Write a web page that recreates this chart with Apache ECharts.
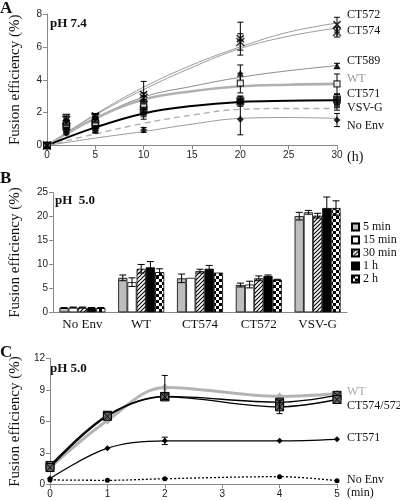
<!DOCTYPE html>
<html><head><meta charset="utf-8">
<script src="https://cdn.jsdelivr.net/npm/echarts@6/dist/echarts.min.js"></script>
<style>html,body{margin:0;padding:0;background:#fff}#c{width:400px;height:501px}</style>
</head><body><div id="c"></div>
<script>
// ---------- Panel A data (pH 7.4) ----------
const timesA = [0, 2, 5, 10, 20, 30];
const seriesNamesA = ['CT572', 'CT574', 'CT589', 'WT', 'CT571', 'VSV-G', 'No Env'];
const markA_CT572 = [0, 1.7, 1.8, 3.1, 6.5, 7.35];
const markA_CT574 = [0, 1.55, 1.7, 2.9, 6.3, 6.9];
const markA_CT589 = [0, 1.4, 1.55, 2.7, 4.4, 4.85];
const markA_WT    = [0, 1.3, 1.4, 2.5, 3.8, 3.75];
const markA_CT571 = [0, 1.15, 1.25, 2.2, 2.7, 2.8];
const markA_VSVG  = [0, 1.0, 1.1, 1.9, 2.7, 2.45];
const markA_NoEnv = [0, 0.75, 0.9, 0.95, 1.6, 1.55];
const errA_CT572 = [0, 0.2, 0.15, 0.8, 1.0, 0.45];
const errA_CT574 = [0, 0.2, 0.2, 0.3, 0.5, 0.3];
const errA_CT589 = [0, 0.2, 0.2, 0.3, 0.5, 0.15];
const errA_WT    = [0, 0.2, 0.3, 0.3, 0.6, 0.6];
const errA_CT571 = [0, 0.2, 0.5, 0.3, 0.3, 0.3];
const errA_VSVG  = [0, 0.2, 0.2, 0.3, 0.3, 0.3];
const errA_NoEnv = [0, 0.1, 0.1, 0.15, 0.95, 0.4];
// trend curves (read at x = 0,5,...,30)
const fitX = [0, 5, 10, 15, 20, 25, 30];
const fitA_CT572 = [0, 1.9, 3.55, 4.9, 6.0, 6.9, 7.45];
const fitA_CT574 = [0, 1.85, 3.4, 4.75, 5.9, 6.65, 7.15];
const fitA_CT589 = [0, 1.65, 2.95, 3.6, 4.15, 4.55, 4.86];
const fitA_WT    = [0, 1.65, 2.8, 3.3, 3.6, 3.7, 3.75];
const fitA_CT571 = [0, 1.1, 1.95, 2.4, 2.65, 2.72, 2.76];
const fitA_VSVG  = [0, 0.7, 1.35, 1.85, 2.2, 2.25, 2.25];
const fitA_NoEnv = [0, 0.45, 0.85, 1.3, 1.65, 1.7, 1.65];
const ticksA_x = [0, 5, 10, 15, 20, 25, 30];
const ticksA_y = [0, 2, 4, 6, 8];

// ---------- Panel B data (pH 5.0 bars) ----------
const categoriesB = ['No Env', 'WT', 'CT574', 'CT572', 'VSV-G'];
const timeLabelsB = ['5 min', '15 min', '30 min', '1 h', '2 h'];
const barB_5min  = [0.9, 7.2, 7.1, 5.7, 20.1];
const barB_15min = [1.0, 6.3, 7.2, 5.8, 20.9];
const barB_30min = [1.0, 9.1, 8.6, 7.1, 20.2];
const barB_1h    = [0.9, 9.4, 9.1, 7.6, 21.8];
const barB_2h    = [0.9, 8.4, 8.3, 6.8, 21.8];
const errB_5min  = [0.1, 0.6, 0.9, 0.4, 0.8];
const errB_15min = [0.1, 0.9, 0, 0.7, 0.4];
const errB_30min = [0.1, 0.9, 0.4, 0.5, 0.5];
const errB_1h    = [0.1, 1.2, 0.7, 0.2, 2.3];
const errB_2h    = [0.1, 0.7, 0, 0.1, 1.5];
const ticksB_y = [0, 5, 10, 15, 20, 25];

// ---------- Panel C data (pH 5.0 kinetics) ----------
const timesC = [0, 1, 2, 4, 5];
const lineC_WT    = [1.6, 6.1, 9.25, 8.4, 8.65];
const lineC_CT574 = [1.8, 6.6, 8.4, 7.85, 8.5];
const lineC_CT572 = [1.6, 6.5, 8.35, 7.4, 8.1];
const lineC_CT571 = [0.55, 3.45, 4.15, 4.15, 4.3];
const lineC_NoEnv = [0.42, 0.38, 0.53, 0.73, 0.34];
const errC_WT    = [0, 0, 1.15, 0, 0];
const errC_CT572 = [0, 0, 0, 0.65, 0];
const errC_CT571 = [0, 0, 0.35, 0, 0];
const ticksC_x = [0, 1, 2, 3, 4, 5];
const ticksC_y = [0, 3, 6, 9, 12];

// ---------- helpers ----------
const SERIF = '"Liberation Serif", "Times New Roman", serif';
const SANS = '"Liberation Sans", Arial, sans-serif';
const pairs = (xs, ys) => xs.map((x, i) => [x, ys[i]]);
const errTriples = (xs, ys, es) => xs.map((x, i) => [x, ys[i] - es[i], ys[i] + es[i]]).filter((d, i) => es[i] > 0);

function makePattern(kind) {
  const c = document.createElement('canvas');
  const s = kind === 'check' ? 6 : 4;
  c.width = s; c.height = s;
  const g = c.getContext('2d');
  g.fillStyle = '#fff'; g.fillRect(0, 0, s, s);
  g.fillStyle = '#000';
  if (kind === 'check') {
    g.fillRect(0, 0, 3, 3); g.fillRect(3, 3, 3, 3);
  } else {
    g.strokeStyle = '#000'; g.lineWidth = 1.1;
    g.beginPath(); g.moveTo(0, s); g.lineTo(s, 0);
    g.moveTo(-1, 1); g.lineTo(1, -1);
    g.moveTo(s - 1, s + 1); g.lineTo(s + 1, s - 1); g.stroke();
  }
  return { image: c, repeat: 'repeat' };
}

function errRender(gridCap) {
  return function (params, api) {
    const x = api.value(0), lo = api.value(1), hi = api.value(2);
    const p1 = api.coord([x, hi]), p2 = api.coord([x, lo]);
    const w = gridCap;
    const st = { stroke: '#000', lineWidth: 1 };
    return { type: 'group', children: [
      { type: 'line', shape: { x1: p1[0], y1: p1[1], x2: p2[0], y2: p2[1] }, style: st },
      { type: 'line', shape: { x1: p1[0] - w, y1: p1[1], x2: p1[0] + w, y2: p1[1] }, style: st },
      { type: 'line', shape: { x1: p2[0] - w, y1: p2[1], x2: p2[0] + w, y2: p2[1] }, style: st }
    ]};
  };
}

const axisLine = { lineStyle: { color: '#888', width: 1 } };
const axisTick = { length: 4, lineStyle: { color: '#888' } };
const axisLabel = { fontFamily: SANS, fontSize: 10, color: '#222', margin: 5 };

// ---------- Panel A series ----------
const fitStyles = {
  'CT572': { color: '#9a9a9a', width: 1 },
  'CT574': { color: '#9a9a9a', width: 1 },
  'CT589': { color: '#8a8a8a', width: 1 },
  'WT':    { color: '#b0b0b0', width: 2.6 },
  'CT571': { color: '#000', width: 2 },
  'VSV-G': { color: '#b0b0b0', width: 1.4, type: [6, 4] },
  'No Env': { color: '#9a9a9a', width: 1 }
};
const fitsA = { 'CT572': fitA_CT572, 'CT574': fitA_CT574, 'CT589': fitA_CT589, 'WT': fitA_WT, 'CT571': fitA_CT571, 'VSV-G': fitA_VSVG, 'No Env': fitA_NoEnv };
const marksA = { 'CT572': markA_CT572, 'CT574': markA_CT574, 'CT589': markA_CT589, 'WT': markA_WT, 'CT571': markA_CT571, 'VSV-G': markA_VSVG, 'No Env': markA_NoEnv };
const errsA = { 'CT572': errA_CT572, 'CT574': errA_CT574, 'CT589': errA_CT589, 'WT': errA_WT, 'CT571': errA_CT571, 'VSV-G': errA_VSVG, 'No Env': errA_NoEnv };
const markStyle = {
  'CT572': { symbol: 'path://M0,0L10,10M10,0L0,10', size: 7, item: { color: 'transparent', borderColor: '#000', borderWidth: 1.6 } },
  'CT574': { symbol: 'path://M0,0L10,10M10,0L0,10M5,0L5,10', size: 8, item: { color: 'transparent', borderColor: '#000', borderWidth: 1.4 } },
  'CT589': { symbol: 'triangle', size: 7, item: { color: '#000' } },
  'WT':    { symbol: 'rect', size: 6, item: { color: '#fff', borderColor: '#000', borderWidth: 1.2 } },
  'CT571': { symbol: 'rect', size: 8, item: { color: '#000' } },
  'VSV-G': { symbol: 'rect', size: 6, item: { color: '#111' } },
  'No Env': { symbol: 'diamond', size: 7, item: { color: '#000' } }
};

const series = [];
seriesNamesA.forEach(n => {
  const fs = fitStyles[n];
  series.push({ type: 'line', xAxisIndex: 0, yAxisIndex: 0, smooth: 0.4, showSymbol: false, silent: true,
    data: pairs(fitX, fitsA[n]), lineStyle: { color: fs.color, width: fs.width, type: fs.type || 'solid' }, z: 2 });
});
seriesNamesA.forEach(n => {
  series.push({ type: 'custom', xAxisIndex: 0, yAxisIndex: 0, renderItem: errRender(3), silent: true,
    data: errTriples(timesA, marksA[n], errsA[n]), encode: { x: 0, y: [1, 2] }, z: 3 });
});
seriesNamesA.slice().reverse().forEach(n => {
  const m = markStyle[n];
  series.push({ type: 'scatter', xAxisIndex: 0, yAxisIndex: 0, symbol: m.symbol, symbolSize: m.size,
    data: pairs(timesA, marksA[n]), itemStyle: m.item, silent: true, z: 4 });
});

// ---------- Panel B series ----------
const barVals = [barB_5min, barB_15min, barB_30min, barB_1h, barB_2h];
const barErrs = [errB_5min, errB_15min, errB_30min, errB_1h, errB_2h];
const barFills = ['#bdbdbd', '#ffffff', makePattern('hatch'), '#000000', makePattern('check')];
const BW = 9.2;
timeLabelsB.forEach((lab, i) => {
  series.push({ type: 'bar', name: lab, xAxisIndex: 1, yAxisIndex: 1, data: barVals[i], barWidth: BW, barGap: '0%',
    itemStyle: { color: barFills[i], borderColor: '#000', borderWidth: 0.8 }, silent: true, z: 2 });
});
const errBData = [];
barVals.forEach((vals, i) => vals.forEach((v, c) => {
  if (barErrs[i][c] > 0) errBData.push([c, v - barErrs[i][c], v + barErrs[i][c], i]);
}));
series.push({ type: 'custom', xAxisIndex: 1, yAxisIndex: 1, silent: true, z: 5,
  data: errBData, encode: { x: 0, y: [1, 2] },
  renderItem: function (params, api) {
    const c = api.value(0), lo = api.value(1), hi = api.value(2), bi = api.value(3);
    const p1 = api.coord([c, hi]), p2 = api.coord([c, lo]);
    const x = p1[0] + (bi - 2) * BW;
    const w = 3.5, st = { stroke: '#000', lineWidth: 1 };
    return { type: 'group', children: [
      { type: 'line', shape: { x1: x, y1: p1[1], x2: x, y2: p2[1] }, style: st },
      { type: 'line', shape: { x1: x - w, y1: p1[1], x2: x + w, y2: p1[1] }, style: st },
      { type: 'line', shape: { x1: x - w, y1: p2[1], x2: x + w, y2: p2[1] }, style: st }
    ]};
  } });

// ---------- Panel C series ----------
const xMark = 'path://M0,0H10V10H0ZM0,0L10,10M10,0L0,10';
series.push({ type: 'line', xAxisIndex: 2, yAxisIndex: 2, smooth: 0.35, data: pairs(timesC, lineC_WT),
  lineStyle: { color: '#b4b4b4', width: 3 }, symbol: 'diamond', symbolSize: 8, itemStyle: { color: '#b4b4b4' }, silent: true, z: 2 });
series.push({ type: 'line', xAxisIndex: 2, yAxisIndex: 2, smooth: 0.35, data: pairs(timesC, lineC_CT574),
  lineStyle: { color: '#000', width: 1.4 }, symbol: xMark, symbolSize: 8, itemStyle: { color: '#666', borderColor: '#000', borderWidth: 1 }, silent: true, z: 3 });
series.push({ type: 'line', xAxisIndex: 2, yAxisIndex: 2, smooth: 0.35, data: pairs(timesC, lineC_CT572),
  lineStyle: { color: '#000', width: 1.4 }, symbol: xMark, symbolSize: 8, itemStyle: { color: '#666', borderColor: '#000', borderWidth: 1 }, silent: true, z: 3 });
series.push({ type: 'line', xAxisIndex: 2, yAxisIndex: 2, smooth: 0.35, data: pairs(timesC, lineC_CT571),
  lineStyle: { color: '#000', width: 1.3 }, symbol: 'diamond', symbolSize: 6, itemStyle: { color: '#000' }, silent: true, z: 3 });
series.push({ type: 'line', xAxisIndex: 2, yAxisIndex: 2, smooth: 0.35, data: pairs(timesC, lineC_NoEnv),
  lineStyle: { color: '#000', width: 1.3, type: [2, 2] }, symbol: 'circle', symbolSize: 5, itemStyle: { color: '#000' }, silent: true, z: 3 });
[[lineC_WT, errC_WT], [lineC_CT572, errC_CT572], [lineC_CT571, errC_CT571]].forEach(([v, e]) => {
  series.push({ type: 'custom', xAxisIndex: 2, yAxisIndex: 2, renderItem: errRender(3), silent: true,
    data: errTriples(timesC, v, e), encode: { x: 0, y: [1, 2] }, z: 4 });
});

// ---------- text ----------
const txt = (x, y, s, o) => ({ type: 'text', left: x, top: y, style: Object.assign({ text: s, fontFamily: SERIF, fontSize: 12, fill: '#111' }, o || {}) });
const graphics = [
  txt(0, 0, 'A', { fontSize: 17, fontWeight: 'bold' }),
  txt(50, 17, 'pH 7.4', { fontSize: 13, fontWeight: 'bold' }),
  txt(347, 150, '(h)', { fontSize: 14 }),
  txt(347, 9, 'CT572'), txt(347, 25, 'CT574'), txt(347, 55, 'CT589'),
  txt(347, 73, 'WT', { fill: '#999' }), txt(347, 88, 'CT571'), txt(347, 102, 'VSV-G'), txt(347, 120, 'No Env'),
  txt(0, 170, 'B', { fontSize: 17, fontWeight: 'bold' }),
  txt(55, 194, 'pH  5.0', { fontSize: 13, fontWeight: 'bold' }),
  txt(0, 344, 'C', { fontSize: 17, fontWeight: 'bold' }),
  txt(50, 362, 'pH 5.0', { fontSize: 13, fontWeight: 'bold' }),
  txt(347, 386, 'WT', { fill: '#aaa' }), txt(347, 400, 'CT574/572'), txt(347, 432, 'CT571'), txt(347, 474, 'No Env'),
  txt(347, 487, '(min)', { fontSize: 12 })
];

const yName = (gap) => ({ name: 'Fusion efficiency (%)', nameLocation: 'middle', nameGap: gap,
  nameTextStyle: { fontFamily: SERIF, fontSize: 15, color: '#111' } });
const yLine = { show: true, lineStyle: { color: '#888' } };
const yTick = { show: true, length: 4, lineStyle: { color: '#888' } };

const option = {
  animation: false,
  backgroundColor: '#fff',
  grid: [
    { left: 41, top: 14, width: 296, height: 131.5 },
    { left: 48, top: 192.7, width: 299, height: 119.6 },
    { left: 41, top: 358.7, width: 296, height: 125.6 }
  ],
  xAxis: [
    { gridIndex: 0, type: 'value', min: 0, max: 30, interval: 5, splitLine: { show: false }, axisLine, axisTick, axisLabel },
    { gridIndex: 1, type: 'category', data: categoriesB, axisLine, axisTick: { length: 3, lineStyle: { color: '#888' } },
      axisLabel: { fontFamily: SERIF, fontSize: 13, color: '#111', margin: 6 } },
    { gridIndex: 2, type: 'value', min: 0, max: 5, interval: 1, splitLine: { show: false }, axisLine, axisTick, axisLabel }
  ],
  yAxis: [
    Object.assign({ gridIndex: 0, type: 'value', min: 0, max: 8, interval: 2, splitLine: { show: false }, axisLine: yLine, axisTick: yTick, axisLabel }, yName(24)),
    Object.assign({ gridIndex: 1, type: 'value', min: 0, max: 25, interval: 5, splitLine: { show: false }, axisLine: yLine, axisTick: yTick, axisLabel }, yName(30)),
    Object.assign({ gridIndex: 2, type: 'value', min: 0, max: 12, interval: 3, splitLine: { show: false }, axisLine: yLine, axisTick: yTick, axisLabel }, yName(24))
  ],
  legend: {
    data: timeLabelsB, orient: 'vertical', left: 351, top: 221, padding: 0, itemWidth: 7, itemHeight: 7, itemGap: 1,
    icon: 'rect', selectedMode: false,
    textStyle: { fontFamily: SERIF, fontSize: 12, lineHeight: 12, color: '#111', padding: [0, 0, 0, -1] }
  },
  graphic: graphics,
  series
};
const chart = echarts.init(document.getElementById('c'), null, { renderer: 'canvas' });
chart.setOption(option);
</script>
</body></html>
